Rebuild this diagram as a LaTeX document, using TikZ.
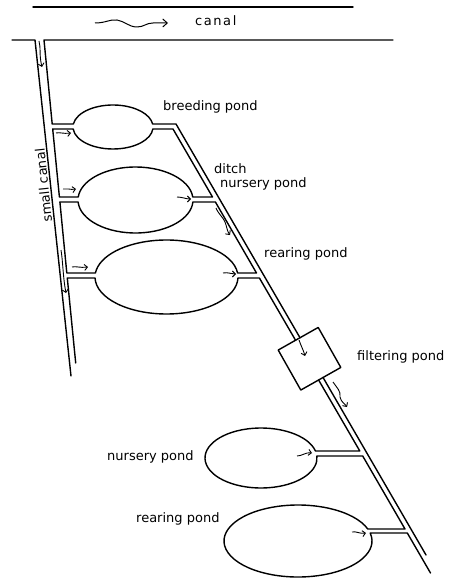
\documentclass[tikz,border=0pt]{standalone}
\usepackage{fontspec}
\setmainfont{DejaVu Sans}
\newfontfamily\widefont[LetterSpace=12]{DejaVu Sans}
\usetikzlibrary{arrows.meta}
\begin{document}
\begin{tikzpicture}[x=1pt,y=-1pt,
  wall/.style={line width=1.4pt,line join=round,line cap=round},
  flow/.style={line width=0.9pt,-{Straight Barb[length=3pt,width=6pt]}},
  flowbig/.style={line width=1pt,-{Straight Barb[length=4.5pt,width=8pt]}},
  lab/.style={font=\fontsize{13}{15}\selectfont,inner sep=0pt,anchor=base west}]
\useasboundingbox (0,0) rectangle (450,585);
% main canal
\draw[wall] (33,7) -- (353,7);
\draw[wall] (12,40) -- (35,40) -- (71,376);
\draw[wall] (393,40) -- (44,40) -- (52.2,124) -- (73.37,124)
  arc[start angle=187.84,end angle=352.16,x radius=40,y radius=22]
  -- (176,124) -- (299.99,337.74);
% between breeding and nursery pond
\draw[wall] (52.7,129) -- (73.17,129)
  arc[start angle=174.78,end angle=5.22,x radius=40,y radius=22]
  -- (173,129) -- (212.5,197) -- (192.76,197)
  arc[start angle=354.78,end angle=185.22,x radius=57.5,y radius=33]
  -- (59.4,197) -- cycle;
% between nursery and rearing pond
\draw[wall] (59.9,202) -- (78.11,202)
  arc[start angle=176.53,end angle=3.47,x radius=57.5,y radius=33]
  -- (215.4,202) -- (256.5,273) -- (237.58,273)
  arc[start angle=353.79,end angle=186.21,x radius=71.5,y radius=37]
  -- (66.8,273) -- cycle;
% below rearing pond
\draw[wall] (75.7,363) -- (67.3,278) -- (95.03,278)
  arc[start angle=178.45,end angle=1.55,x radius=71.5,y radius=37]
  -- (259.4,278) -- (295.55,340.25);
% filtering pond
\coordinate (f1) at (278.2,350.05);
\coordinate (f2) at (318.2,327.45);
\coordinate (f3) at (340.8,367.45);
\coordinate (f4) at (300.8,390.05);
\draw[wall] (f1) -- (f2) -- (f3) -- (f4) -- cycle;
% ditch below filtering pond
\draw[wall] (323.04,377.48) -- (426,555);
\draw[wall] (318.6,379.99) -- (359.8,451) -- (315.45,451)
  arc[start angle=346.51,end angle=-3.82,x radius=56,y radius=30]
  -- (362.7,456) -- (405,529) -- (367.77,529)
  arc[start angle=340.53,end angle=-12.84,x radius=74,y radius=36]
  -- (407.3,533) -- (430.5,573);
% flow arrows
\draw[flowbig] (95,23) .. controls (106,23) and (110,19) .. (117,20)
  .. controls (124,21) and (129,27) .. (137,27)
  .. controls (144,27) and (146,23) .. (153,23) -- (168,23);
\draw[flow] (39,41) .. controls (41,48) and (39,55) .. (42,67);
\draw[flow] (56,133) .. controls (60,132) and (63,134) .. (71,133);
\draw[flow] (63,189) .. controls (67,188) and (70,190) .. (76,189);
\draw[flow] (72,267) .. controls (76,266) and (80,268) .. (88,267);
\draw[flow] (61,250) .. controls (63,262) and (63,278) .. (66,293);
\draw[flow] (177,197) .. controls (182,197) and (186,199) .. (191,199);
\draw[flow] (216,208) .. controls (219,215) and (223,217) .. (225,222)
  .. controls (227,227) and (227,231) .. (230,235);
\draw[flow] (223,273) .. controls (228,272) and (231,274) .. (236,274);
\draw[flow] (299,340) .. controls (301,346) and (303,349) .. (305,356);
\draw[flow] (333,382) .. controls (337,388) and (341,391) .. (340,397)
  .. controls (341,402) and (345,404) .. (347,407);
\draw[flow] (297,456) .. controls (302,456) and (306,452) .. (312,453);
\draw[flow] (352,532) .. controls (356,531) and (360,534) .. (366,533);
% labels
\node[lab] (tcanal) at (195,26) {\widefont canal};
\node[lab] (tbreed) at (163,111) {breeding pond};
\node[lab] (tditch) at (214,174) {ditch};
\node[lab] (tnurs1) at (220,187) {nursery pond};
\node[lab] (trear1) at (264,257) {rearing pond};
\node[lab] (tfilt) at (357,360) {filtering pond};
\node[lab] (tnurs2) at (107,460) {nursery pond};
\node[lab] (trear2) at (136,522) {rearing pond};
\node[lab,anchor=base,rotate=96] (tsmall) at (48.3,185) {small canal};
\end{tikzpicture}
\end{document}
